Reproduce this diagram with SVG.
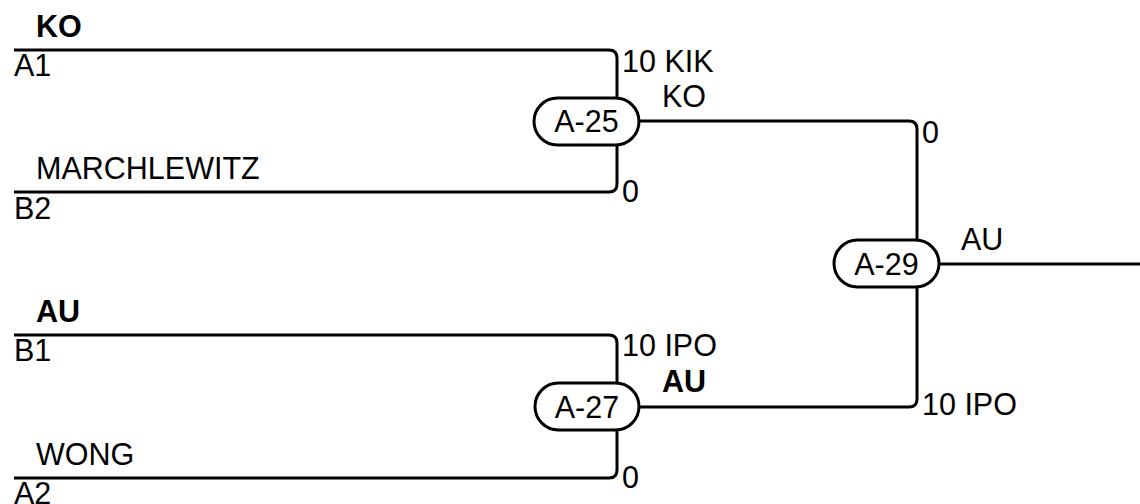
<svg xmlns="http://www.w3.org/2000/svg" width="1140" height="504" viewBox="0 0 1140 504">
<style>
text{font-family:"Liberation Sans",Arial,sans-serif;font-size:30.5px;fill:#000}
.b{font-weight:bold}
.m{text-anchor:middle}
.ln{fill:none;stroke:#000;stroke-width:3}
.pill{fill:#fff;stroke:#000;stroke-width:3}
</style>
<rect width="1140" height="504" fill="#fff"/>
<g id="connectors">
<path class="ln" d="M14,50 H609 Q617,50 617,58 V121"/>
<path class="ln" d="M14,192 H609 Q617,192 617,184 V121"/>
<path class="ln" d="M14,335 H609 Q617,335 617,343 V407"/>
<path class="ln" d="M14,478 H609 Q617,478 617,470 V407"/>
<path class="ln" d="M586,121 H909 Q917,121 917,129 V264"/>
<path class="ln" d="M586,407 H909 Q917,407 917,399 V264"/>
<path class="ln" d="M886,264 H1140"/>
</g>
<g id="entries">
<text x="36" y="37" class="b">KO</text>
<text x="14" y="76">A1</text>
<text x="36" y="179">MARCHLEWITZ</text>
<text x="14" y="219">B2</text>
<text x="36" y="322" class="b">AU</text>
<text x="14" y="361">B1</text>
<text x="36" y="465">WONG</text>
<text x="14" y="504">A2</text>
</g>
<g id="A-25">
<rect class="pill" x="534" y="98" width="105" height="47" rx="23.5"/>
<text x="586.5" y="132" class="m">A-25</text>
<text x="622" y="72">10 KIK</text>
<text x="662" y="107">KO</text>
<text x="622" y="202">0</text>
</g>
<g id="A-27">
<rect class="pill" x="535" y="383" width="104" height="47" rx="23.5"/>
<text x="587" y="418" class="m">A-27</text>
<text x="622" y="356">10 IPO</text>
<text x="662" y="392" class="b">AU</text>
<text x="622" y="488">0</text>
</g>
<g id="A-29">
<rect class="pill" x="834" y="240" width="105" height="47" rx="23.5"/>
<text x="886.5" y="275" class="m">A-29</text>
<text x="922" y="143">0</text>
<text x="961" y="250">AU</text>
<text x="922" y="415">10 IPO</text>
</g>
</svg>
